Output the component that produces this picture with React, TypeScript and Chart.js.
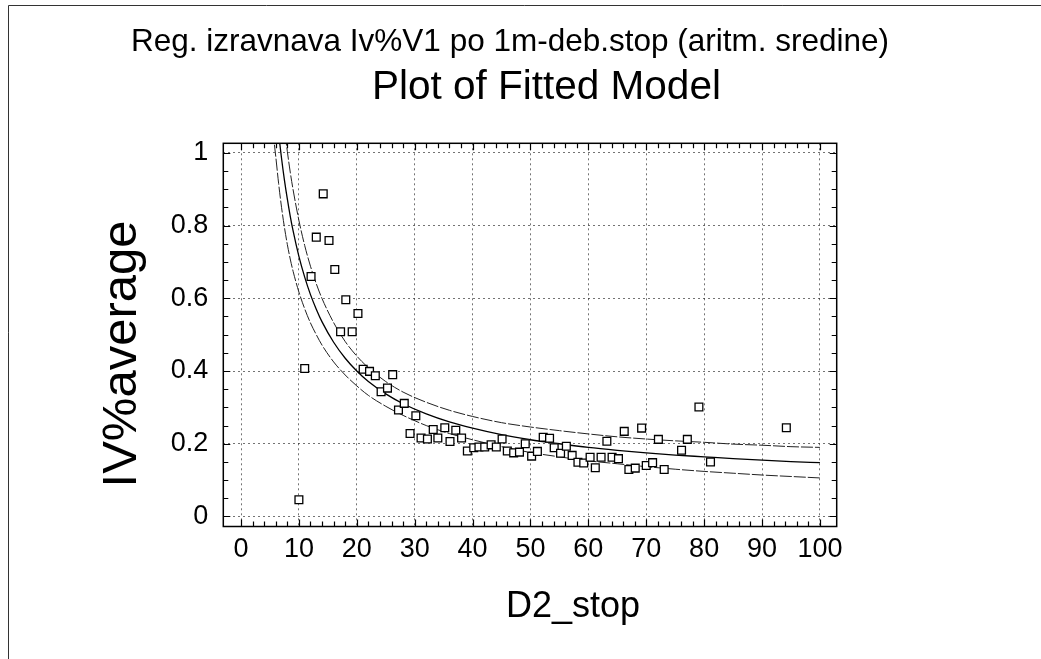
import React, { useEffect, useRef } from "react";
import { Chart, registerables } from "chart.js";

Chart.register(...registerables);

const TITLE = "Reg. izravnava Iv%V1 po 1m-deb.stop (aritm. sredine)";
const SUBTITLE = "Plot of Fitted Model";
const X_TITLE = "D2_stop";
const Y_TITLE = "IV%average";

const X_TICKS = [0, 10, 20, 30, 40, 50, 60, 70, 80, 90, 100];
const Y_TICKS = [0, 0.2, 0.4, 0.6, 0.8, 1];

// observed points
const OBS_X = [
  10.0, 11.0, 12.1, 13.0, 14.2, 15.2, 16.2, 17.2, 18.1, 19.2, 20.2, 21.1, 22.2, 23.2, 24.2, 25.3, 26.2,
  27.2, 28.2, 29.2, 30.2, 31.1, 32.2, 33.2, 34.0, 35.2, 36.1, 37.1, 38.1, 39.1, 40.2, 41.1, 42.1, 43.2,
  44.1, 45.1, 46.0, 47.1, 48.1, 49.1, 50.2, 51.2, 52.2, 53.3, 54.1, 55.2, 56.2, 57.2, 58.2, 59.2, 60.3,
  61.2, 62.2, 63.2, 64.1, 65.2, 66.2, 67.0, 68.1, 69.2, 70.0, 71.1, 72.1, 73.1, 76.1, 77.1, 79.1, 81.1,
  94.2,
];
const OBS_Y = [
  0.046, 0.407, 0.66, 0.768, 0.887, 0.759, 0.679, 0.508, 0.596, 0.508, 0.558, 0.405, 0.399, 0.387, 0.343,
  0.353, 0.39, 0.293, 0.311, 0.228, 0.277, 0.216, 0.213, 0.239, 0.216, 0.244, 0.206, 0.237, 0.216, 0.18,
  0.189, 0.191, 0.191, 0.197, 0.191, 0.213, 0.18, 0.175, 0.177, 0.2, 0.166, 0.179, 0.218, 0.215, 0.189,
  0.174, 0.193, 0.168, 0.149, 0.147, 0.163, 0.134, 0.163, 0.207, 0.163, 0.159, 0.234, 0.129, 0.133, 0.243,
  0.14, 0.148, 0.212, 0.129, 0.182, 0.212, 0.301, 0.15, 0.244,
];

// fitted model and its limits
const FIT_X = [
  5.5, 6, 6.5, 7, 7.5, 8, 8.5, 9, 10, 11, 12, 13, 14, 16, 18, 20, 22, 25, 28, 32, 36, 40, 45, 50, 55, 60,
  65, 70, 75, 80, 85, 90, 95, 100,
];
const FIT_Y = [
  1.23, 1.135, 1.054, 0.985, 0.925, 0.873, 0.826, 0.785, 0.715, 0.658, 0.61, 0.57, 0.535, 0.479, 0.435,
  0.4, 0.371, 0.337, 0.31, 0.282, 0.26, 0.243, 0.225, 0.211, 0.2, 0.19, 0.182, 0.175, 0.169, 0.164, 0.159,
  0.155, 0.151, 0.148,
];
const UPPER_Y = [
  1.436, 1.321, 1.223, 1.139, 1.067, 1.004, 0.947, 0.898, 0.814, 0.745, 0.688, 0.64, 0.599, 0.533, 0.481,
  0.441, 0.409, 0.371, 0.342, 0.314, 0.292, 0.275, 0.258, 0.246, 0.236, 0.227, 0.219, 0.213, 0.208, 0.204,
  0.199, 0.196, 0.192, 0.19,
];
const LOWER_Y = [
  1.06, 0.99, 0.915, 0.85, 0.795, 0.748, 0.708, 0.674, 0.617, 0.571, 0.532, 0.5, 0.471, 0.425, 0.389,
  0.359, 0.333, 0.303, 0.278, 0.25, 0.228, 0.211, 0.192, 0.176, 0.164, 0.153, 0.145, 0.137, 0.13, 0.124,
  0.119, 0.114, 0.11, 0.106,
];

const FONT = '"Liberation Sans", Arial, Helvetica, sans-serif';
const W = 1041;
const H = 659;

const toPts = (xs: number[], ys: number[]) => xs.map((x, i) => ({ x, y: ys[i] }));

const framePlugin = {
  id: "frame",
  beforeDraw(chart: any) {
    const ctx = chart.ctx;
    ctx.save();
    ctx.fillStyle = "#fff";
    ctx.fillRect(0, 0, chart.width, chart.height);
    ctx.strokeStyle = "#333";
    ctx.lineWidth = 1;
    ctx.beginPath();
    ctx.moveTo(8.5, H);
    ctx.lineTo(8.5, 5.5);
    ctx.lineTo(W, 5.5);
    ctx.stroke();
    ctx.restore();
  },
  afterDraw(chart: any) {
    const ctx = chart.ctx;
    const { left, right, top, bottom } = chart.chartArea;
    const xs = chart.scales.x;
    const ys = chart.scales.y;
    ctx.save();
    ctx.strokeStyle = "#000";
    ctx.lineWidth = 1.5;
    ctx.strokeRect(left, top, right - left, bottom - top);
    ctx.lineWidth = 1.2;
    ctx.beginPath();
    for (let v = 0; v <= 100; v += 2) {
      const p = Math.round(xs.getPixelForValue(v)) + 0.5;
      const len = v % 10 === 0 ? 7 : 5;
      ctx.moveTo(p, bottom);
      ctx.lineTo(p, bottom - len);
      ctx.moveTo(p, top);
      ctx.lineTo(p, top + len);
    }
    for (let i = 0; i <= 20; i++) {
      const v = i * 0.05;
      const p = Math.round(ys.getPixelForValue(v)) + 0.5;
      const len = i % 4 === 0 ? 7 : 5;
      ctx.moveTo(left, p);
      ctx.lineTo(left + len, p);
      ctx.moveTo(right, p);
      ctx.lineTo(right - len, p);
    }
    ctx.stroke();

    ctx.fillStyle = "#000";
    ctx.textBaseline = "alphabetic";
    ctx.textAlign = "left";
    ctx.font = `31.5px ${FONT}`;
    ctx.fillText(TITLE, 131, 51);
    ctx.font = `40.5px ${FONT}`;
    ctx.fillText(SUBTITLE, 372, 99);
    ctx.textAlign = "center";
    ctx.font = `36px ${FONT}`;
    ctx.fillText(X_TITLE, 573, 617);
    ctx.save();
    ctx.translate(135.5, 354);
    ctx.rotate(-Math.PI / 2);
    ctx.font = `49px ${FONT}`;
    ctx.fillText(Y_TITLE, 0, 0);
    ctx.restore();
    ctx.restore();
  },
};

export default function App() {
  const ref = useRef<HTMLCanvasElement | null>(null);
  useEffect(() => {
    if (!ref.current) return;
    const gridCommon = {
      color: "rgba(0,0,0,0.55)",
      lineWidth: 1,
      drawTicks: false,
    };
    const chart = new Chart(ref.current, {
      type: "scatter",
      data: {
        datasets: [
          {
            label: "observed",
            data: toPts(OBS_X, OBS_Y),
            pointStyle: "rect",
            pointRadius: 5.5,
            borderColor: "#000",
            backgroundColor: "#fff",
            borderWidth: 1.3,
          },
          {
            label: "fitted",
            type: "line",
            data: toPts(FIT_X, FIT_Y),
            showLine: true,
            pointRadius: 0,
            borderColor: "#000",
            borderWidth: 1.3,
            cubicInterpolationMode: "monotone",
            fill: false,
          },
          {
            label: "upper",
            type: "line",
            data: toPts(FIT_X, UPPER_Y),
            showLine: true,
            pointRadius: 0,
            borderColor: "#222",
            borderWidth: 1,
            borderDash: [12, 2],
            cubicInterpolationMode: "monotone",
            fill: false,
          },
          {
            label: "lower",
            type: "line",
            data: toPts(FIT_X, LOWER_Y),
            showLine: true,
            pointRadius: 0,
            borderColor: "#222",
            borderWidth: 1,
            borderDash: [12, 2],
            cubicInterpolationMode: "monotone",
            fill: false,
          },
        ] as any,
      },
      options: {
        animation: false,
        responsive: false,
        devicePixelRatio: 1,
        layout: { padding: { left: 0, right: 204.3, top: 143.3, bottom: 0 } },
        plugins: { legend: { display: false }, tooltip: { enabled: false }, title: { display: false } },
        scales: {
          x: {
            type: "linear",
            min: -3.06,
            max: 102.9,
            afterFit: (s: any) => {
              s.height = 132.5;
            },
            grid: gridCommon,
            border: { display: false, dash: [2, 3] },
            ticks: {
              stepSize: 10,
              includeBounds: false,
              autoSkip: false,
              maxRotation: 0,
              padding: 7,
              color: "#000",
              font: { family: FONT, size: 27 },
              callback: (v: any) => (X_TICKS.includes(Number(v)) ? String(v) : ""),
            },
          },
          y: {
            type: "linear",
            min: -0.0275,
            max: 1.026,
            afterFit: (s: any) => {
              s.width = 223.3;
            },
            grid: gridCommon,
            border: { display: false, dash: [2, 3] },
            ticks: {
              stepSize: 0.2,
              includeBounds: false,
              autoSkip: false,
              padding: 15,
              color: "#000",
              font: { family: FONT, size: 27 },
              callback: (v: any) => {
                const n = Math.round(Number(v) * 10) / 10;
                return Y_TICKS.includes(n) ? String(n) : "";
              },
            },
          },
        },
      },
      plugins: [framePlugin],
    });
    return () => chart.destroy();
  }, []);
  return (
    <div style={{ position: "fixed", left: 0, top: 0, width: W, height: H, background: "#fff" }}>
      <canvas ref={ref} width={W} height={H} style={{ display: "block", width: W, height: H }} />
    </div>
  );
}
